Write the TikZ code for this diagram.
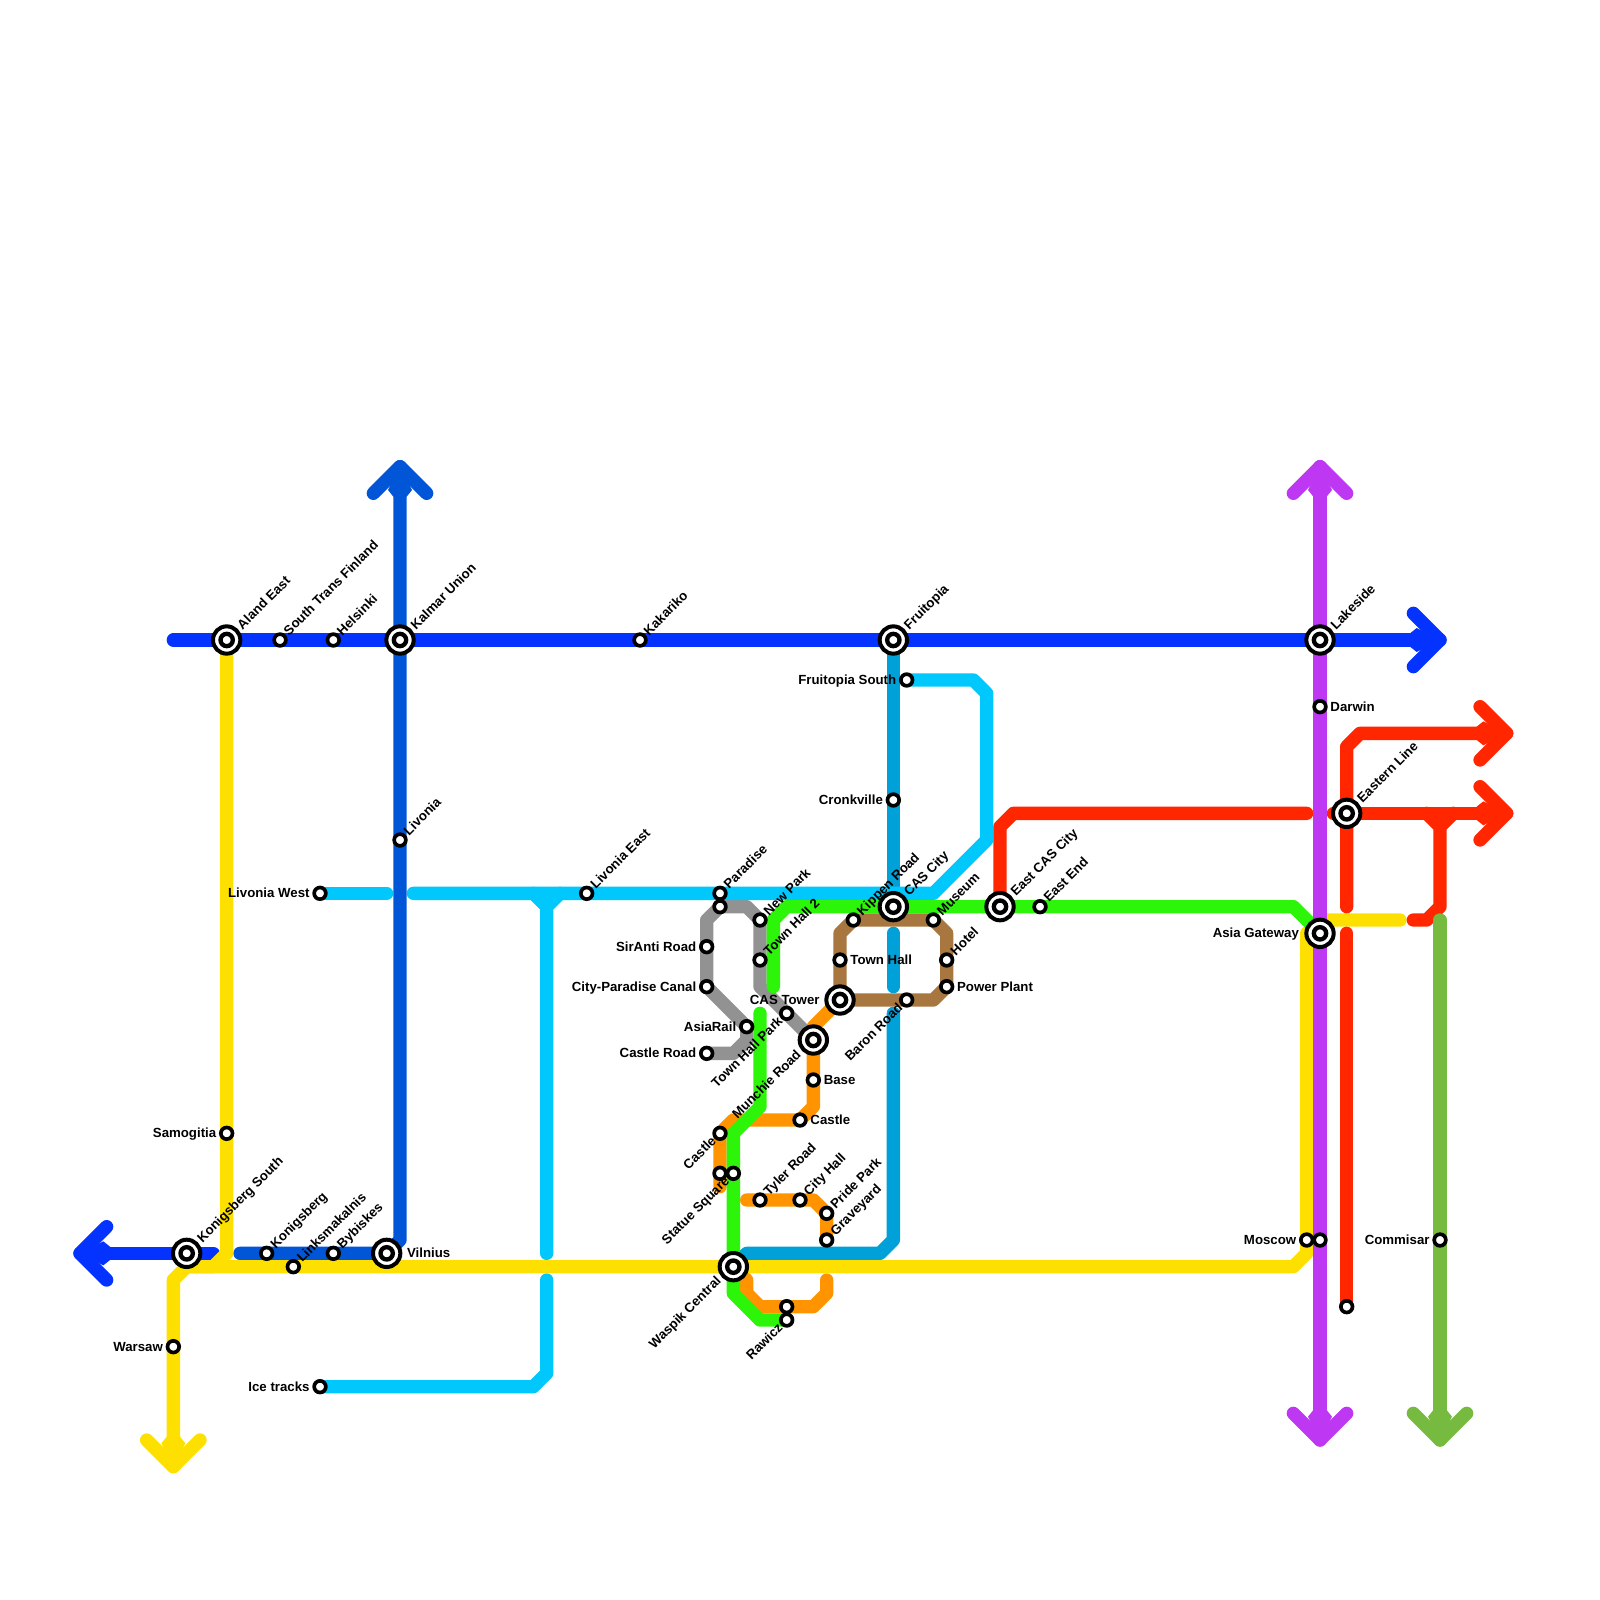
\documentclass[tikz,border=0pt]{standalone}
\usepackage{fontspec}
\setmainfont{Liberation Sans}
\usetikzlibrary{backgrounds, calc}
\definecolor{BlueLn}{HTML}{0433FF}
\definecolor{NavyLn}{HTML}{0056D6}
\definecolor{CyanLn}{HTML}{00C7FC}
\definecolor{TealLn}{HTML}{00A1D8}
\definecolor{YellowLn}{HTML}{FEE000}
\definecolor{PurpleLn}{HTML}{BE38F3}
\definecolor{RedLn}{HTML}{FF2600}
\definecolor{GreenLn}{HTML}{2CF50A}
\definecolor{OliveLn}{HTML}{76BB40}
\definecolor{BrownLn}{HTML}{A8773F}
\definecolor{GrayLn}{HTML}{929292}
\definecolor{OrangeLn}{HTML}{FF9300}
\tikzset{
  metro/.style={line width=0.2cm, line cap=round, line join=round},
  stn/.style={circle, draw=black, fill=white, line width=0.055cm, minimum size=0.175cm, inner sep=0pt},
  hubout/.style={circle, draw=black, fill=white, line width=0.06cm, minimum size=0.41cm, inner sep=0pt},
  hubin/.style={circle, draw=black, fill=white, line width=0.065cm, minimum size=0.185cm, inner sep=0pt},
  lbl/.style={inner sep=0pt, font=\fontsize{5.65pt}{6pt}\selectfont\bfseries},
  lblne/.style={lbl, rotate=45, anchor=mid west},
  lblsw/.style={lbl, rotate=45, anchor=mid east},
  lblr/.style={lbl, anchor=mid west},
  lbll/.style={lbl, anchor=mid east},
  arrowhd/.pic={
    \fill (-2.25,-0.5) -- (-1.75,-0.9) -- (0,0) -- (-1.75,0.9) -- (-2.25,0.5) -- cycle;
    \draw [metro] (-2,-2) -- (0,0) -- (-2,2);
  },
}
\begin{document}
\begin{tikzpicture}[x=0.2cm, y=-0.2cm]
    \useasboundingbox (0,0) rectangle (120,120);
    % Interchanges, label up right
    \foreach \nm/\x/\y/\txt in {aland/17/48/Aland East, kalmar/30/48/Kalmar Union, fruitopia/67/48/Fruitopia,
        lakeside/99/48/Lakeside, eastern/101/61/Eastern Line, cascity/67/68/CAS City,
        eastcas/75/68/East CAS City, konigsouth/14/94/Konigsberg South} {
        \node [hubout] (\nm) at (\x,\y) {};
        \node [hubin] (\nm-c) at (\x,\y) {};
        \node [lblne] (\nm-l) at ($(\nm)+(0.85,-1.05)$) {\txt};
    }
    % Interchanges, other labels
    \node [hubout] (asia) at (99,70) {};
    \node [hubin] (asia-c) at (99,70) {};
    \node [lbll] (asia-l) at ($(asia)+(-1.55,-0.13)$) {Asia Gateway};
    \node [hubout] (castower) at (63,75) {};
    \node [hubin] (castower-c) at (63,75) {};
    \node [lbll] (castower-l) at ($(castower)+(-1.5,-0.13)$) {CAS Tower};
    \node [hubout] (vilnius) at (29,94) {};
    \node [hubin] (vilnius-c) at (29,94) {};
    \node [lblr] (vilnius-l) at ($(vilnius)+(1.5,-0.13)$) {Vilnius};
    \node [hubout] (munchie) at (61,78) {};
    \node [hubin] (munchie-c) at (61,78) {};
    \node [lblsw] (munchie-l) at ($(munchie)+(-1.18,0.8)$) {Munchie Road};
    \node [hubout] (waspik) at (55,95) {};
    \node [hubin] (waspik-c) at (55,95) {};
    \node [lblsw] (waspik-l) at ($(waspik)+(-1.18,0.8)$) {Waspik Central};
    % Stations, label up right
    \foreach \nm/\x/\y/\txt in {southtrans/21/48/South Trans Finland, helsinki/25/48/Helsinki, kakariko/48/48/Kakariko,
        livonia/30/63/Livonia, livoniaeast/44/67/Livonia East, paradise/54/67/Paradise, newpark/57/69/New Park,
        townhalltwo/57/72/Town Hall 2, kippen/64/69/Kippen Road, museum/70/69/Museum, hotel/71/72/Hotel,
        eastend/78/68/East End, tyler/57/90/Tyler Road, cityhall/60/90/City Hall, pride/62/91/Pride Park,
        graveyard/62/93/Graveyard, konigsberg/20/94/Konigsberg, links/22/95/Linksmakalnis, bybiskes/25/94/Bybiskes} {
        \node [stn] (\nm) at (\x,\y) {};
        \node [lblne] (\nm-l) at ($(\nm)+(0.33,-0.6)$) {\txt};
    }
    % Stations, label down left
    \foreach \nm/\x/\y/\txt in {baron/68/75/Baron Road, hallpark/59/76/Town Hall Park, castlewest/54/85/Castle,
        statue/55/88/Statue Square, rawicz/59/99/Rawicz} {
        \node [stn] (\nm) at (\x,\y) {};
        \node [lblsw] (\nm-l) at ($(\nm)+(-0.55,0.3)$) {\txt};
    }
    % Stations, label right
    \foreach \nm/\x/\y/\txt in {darwin/99/53/Darwin, townhall/63/72/Town Hall, power/71/74/Power Plant,
        base/61/81/Base, castle/60/84/Castle} {
        \node [stn] (\nm) at (\x,\y) {};
        \node [lblr] (\nm-l) at ($(\nm)+(0.75,-0.13)$) {\txt};
    }
    % Stations, label left
    \foreach \nm/\x/\y/\txt in {fruitsouth/68/51/Fruitopia South, cronkville/67/60/Cronkville, livwest/24/67/Livonia West,
        siranti/53/71/SirAnti Road, canal/53/74/City-Paradise Canal, asiarail/56/77/AsiaRail, castleroad/53/79/Castle Road,
        samogitia/17/85/Samogitia, warsaw/13/101/Warsaw, icetracks/24/104/Ice tracks, moscow/98/93/Moscow,
        commisar/108/93/Commisar} {
        \node [stn] (\nm) at (\x,\y) {};
        \node [lbll] (\nm-l) at ($(\nm)+(-0.75,-0.13)$) {\txt};
    }
    % Stations without label
    \foreach \nm/\x/\y in {parasouth/54/68, statuewest/54/88, rawicznorth/59/98, moscoweast/99/93, redend/101/98} {
        \node [stn] (\nm) at (\x,\y) {};
    }
    \begin{scope}[on background layer]
        % Orange
        \draw [metro, OrangeLn] (castower.center) -- (61,77) -- (base.center) -- (61,83) -- (castle.center) -- (55,84)
            -- (castlewest.center) -- (54,89);
        \draw [metro, OrangeLn] (56,90) -- (cityhall.center) -- (61,90) -- (pride.center) -- (graveyard.center);
        \draw [metro, OrangeLn] (waspik.center) -- (56,96) -- (56,97) -- (57,98) -- (61,98) -- (62,97) -- (62,96);
        % Teal
        \draw [metro, TealLn] (fruitopia.center) -- (cascity.center);
        \draw [metro, TealLn] (67,70) -- (67,74);
        \draw [metro, TealLn] (67,76) -- (67,93) -- (66,94) -- (56,94) -- (waspik.center);
        % Gray
        \draw [metro, GrayLn] (castleroad.center) -- (55,79) -- (56,78) -- (asiarail.center) -- (canal.center)
            -- (siranti.center) -- (53,69) -- (parasouth.center) -- (56,68) -- (newpark.center) -- (57,74)
            -- (munchie.center);
        % Brown
        \draw [metro, BrownLn] (castower.center) -- (70,75) -- (power.center) -- (hotel.center) -- (71,70)
            -- (museum.center) -- (kippen.center) -- (63,70) -- cycle;
        % Cyan
        \draw [metro, CyanLn] (livwest.center) -- (29,67);
        \draw [metro, CyanLn] (31,67) -- (70,67) -- (74,63) -- (74,52) -- (73,51) -- (fruitsouth.center);
        \draw [metro, CyanLn] (40,67) -- (41,68) -- (42,67) (41,68) -- (41,94);
        \draw [metro, CyanLn] (41,96) -- (41,103) -- (40,104) -- (icetracks.center);
        % Blue
        \draw [metro, BlueLn] (13,48) -- (108,48);
        \pic [BlueLn] at (108,48) {arrowhd};
        \draw [metro, BlueLn] (6,94) -- (16,94);
        \pic [BlueLn, rotate=180] at (6,94) {arrowhd};
        % Navy
        \draw [metro, NavyLn] (18,94) -- (vilnius.center) -- (30,93) -- (30,35);
        \pic [NavyLn, rotate=90] at (30,35) {arrowhd};
        % Yellow
        \draw [metro, YellowLn] (aland.center) -- (17,94) -- (16,95) -- (14,95) -- (13,96) -- (13,110);
        \pic [YellowLn, rotate=-90] at (13,110) {arrowhd};
        \draw [metro, YellowLn] (14,95) -- (97,95) -- (98,94) -- (98,70) -- (99,69) -- (105,69);
        % Red
        \draw [metro, RedLn] (eastcas.center) -- (75,62) -- (76,61) -- (98,61);
        \draw [metro, RedLn] (101,68) -- (101,56) -- (102,55) -- (113,55);
        \pic [RedLn] at (113,55) {arrowhd};
        \draw [metro, RedLn] (100,61) -- (113,61);
        \pic [RedLn] at (113,61) {arrowhd};
        \draw [metro, RedLn] (106,69) -- (107,69) -- (108,68) -- (108,62) -- (107,61) (108,62) -- (109,61);
        \draw [metro, RedLn] (101,70) -- (redend.center);
        % Green
        \draw [metro, GreenLn] (57,76) -- (57,83) -- (55,85) -- (55,97) -- (57,99) -- (rawicz.center);
        \draw [metro, GreenLn] (58,74) -- (58,69) -- (59,68) -- (97,68) -- (asia.center);
        % Olive
        \draw [metro, OliveLn] (108,69) -- (108,108);
        \pic [OliveLn, rotate=-90] at (108,108) {arrowhd};
        % Purple
        \draw [metro, PurpleLn] (99,35) -- (99,108);
        \pic [PurpleLn, rotate=90] at (99,35) {arrowhd};
        \pic [PurpleLn, rotate=-90] at (99,108) {arrowhd};
    \end{scope}
\end{tikzpicture}
\end{document}
